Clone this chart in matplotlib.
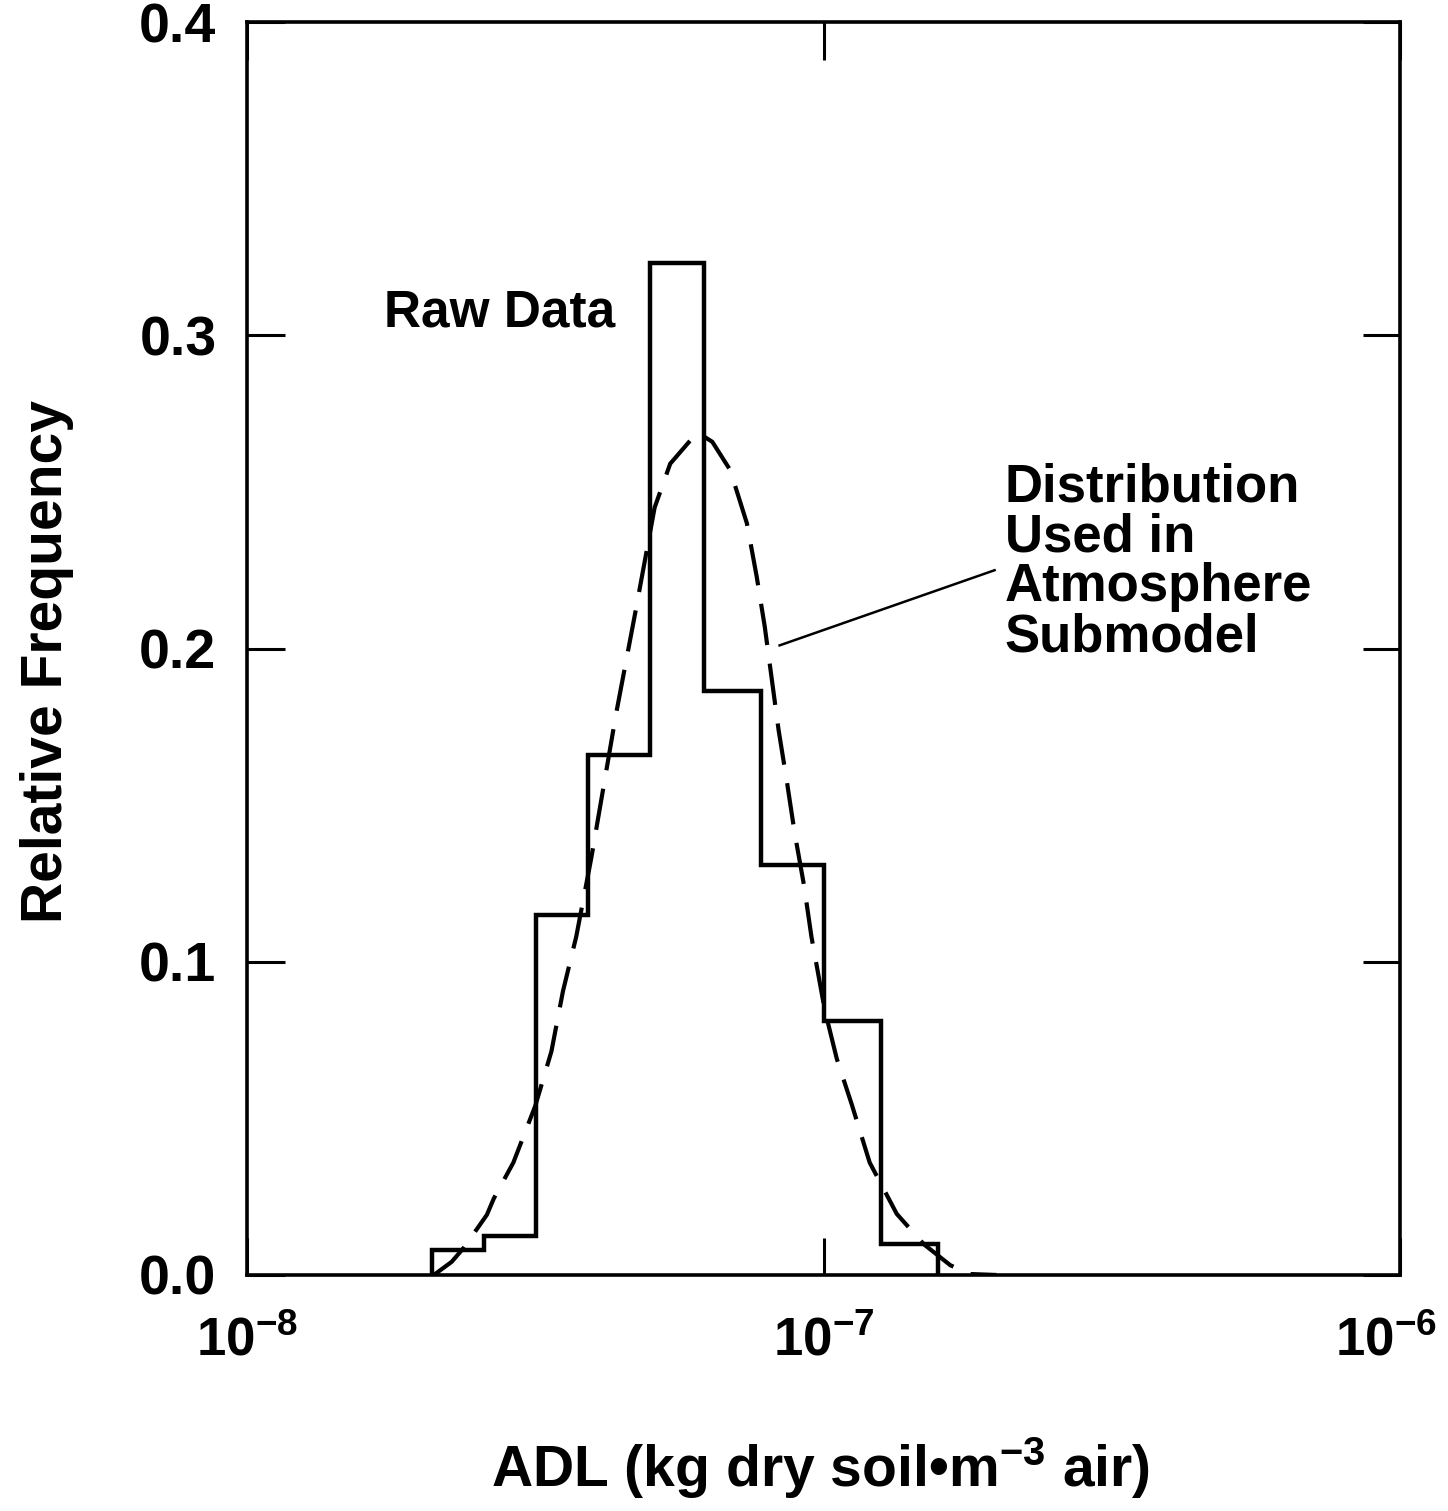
import numpy as np
import matplotlib
matplotlib.use('Agg')
import matplotlib.pyplot as plt
import matplotlib.transforms as mtransforms
from matplotlib.ticker import NullLocator, FixedLocator

# Raw data histogram (bin edges, heights = relative frequency)
bin_edges = [2.09e-8, 2.58e-8, 3.17e-8, 3.90e-8, 5.00e-8, 6.20e-8, 7.80e-8, 1.00e-7, 1.26e-7, 1.58e-7]
rel_freq = [0.008, 0.0125, 0.115, 0.166, 0.323, 0.1865, 0.131, 0.081, 0.010]

# Dashed curve: distribution used in atmosphere submodel
fit_log_x = [-7.676, -7.645, -7.624, -7.584, -7.572, -7.538, -7.500, -7.472, -7.452,
             -7.429, -7.403, -7.360, -7.326, -7.293, -7.266, -7.219, -7.193, -7.162,
             -7.133, -7.116, -7.102, -7.090, -7.078, -7.064, -7.050, -7.034, -7.021,
             -6.998, -6.977, -6.951, -6.920, -6.873, -6.826, -6.780, -6.745, -6.700]
fit_y = [0.0, 0.0042, 0.0087, 0.0192, 0.0244, 0.0359, 0.054, 0.0714, 0.0906,
         0.108, 0.133, 0.179, 0.212, 0.245, 0.259, 0.269, 0.266, 0.257,
         0.240, 0.223, 0.207, 0.1905, 0.174, 0.158, 0.141, 0.1245, 0.108,
         0.0847, 0.069, 0.0544, 0.0359, 0.0195, 0.0098, 0.0031, 0.0003, 0.0]

yticks = [0.0, 0.1, 0.2, 0.3, 0.4]
ytick_labels = ['0.0', '0.1', '0.2', '0.3', '0.4']
xticks = [1e-8, 1e-7, 1e-6]
xtick_labels = [r'$\mathbf{10^{-8}}$', r'$\mathbf{10^{-7}}$', r'$\mathbf{10^{-6}}$']

plt.rcParams['font.family'] = ['Liberation Sans', 'DejaVu Sans']
plt.rcParams['font.weight'] = 'bold'
plt.rcParams['mathtext.fontset'] = 'custom'
plt.rcParams['mathtext.rm'] = 'Liberation Sans:bold'
plt.rcParams['mathtext.bf'] = 'Liberation Sans:bold'
plt.rcParams['mathtext.it'] = 'Liberation Sans:bold'
plt.rcParams['mathtext.default'] = 'rm'

fig = plt.figure(figsize=(14.48, 15.11), dpi=100)
ax = fig.add_axes([0.1706, 0.1562, 0.7963, 0.8292])

ax.stairs(rel_freq, bin_edges, baseline=0, color='black', linewidth=3.2)
ax.plot(10 ** np.array(fit_log_x), fit_y, color='black', linewidth=3.0,
        dashes=(10, 4.5))

ax.set_xscale('log')
ax.set_xlim(1e-8, 1e-6)
ax.set_ylim(0, 0.4)

ax.xaxis.set_major_locator(FixedLocator(xticks))
ax.xaxis.set_minor_locator(NullLocator())
ax.set_xticklabels(xtick_labels)
ax.set_yticks(yticks)
ax.set_yticklabels(ytick_labels)

ax.tick_params(which='both', direction='in', top=True, right=True,
               length=27, width=2.2)
ax.tick_params(axis='x', pad=30, labelsize=38)
ax.tick_params(axis='y', pad=22, labelsize=40)
for s in ax.spines.values():
    s.set_linewidth(2.6)

# nudge the right-most x tick label so it stays inside the figure
shift = mtransforms.ScaledTranslation(-14 / 100, 0, fig.dpi_scale_trans)
lab = ax.get_xticklabels()[-1]
lab.set_transform(lab.get_transform() + shift)

ax.set_ylabel('Relative Frequency', fontsize=41, fontweight='bold')
ax.yaxis.set_label_coords(-0.150, 0.49)
ax.set_xlabel('ADL (kg dry soil\u2022m$^{-3}$ air)', fontsize=41, fontweight='bold')
ax.xaxis.set_label_coords(0.497, -0.128)

ax.text(1.73e-8, 0.307, 'Raw Data', fontsize=37, fontweight='bold',
        ha='left', va='center')
ax.text(2.06e-7, 0.2276, 'Distribution\nUsed in\nAtmosphere\nSubmodel',
        fontsize=38, fontweight='bold', ha='left', va='center', linespacing=1.0)
ax.plot([8.39e-8, 1.98e-7], [0.201, 0.225], color='black', linewidth=1.8)

fig.savefig('out.png', dpi=100)
